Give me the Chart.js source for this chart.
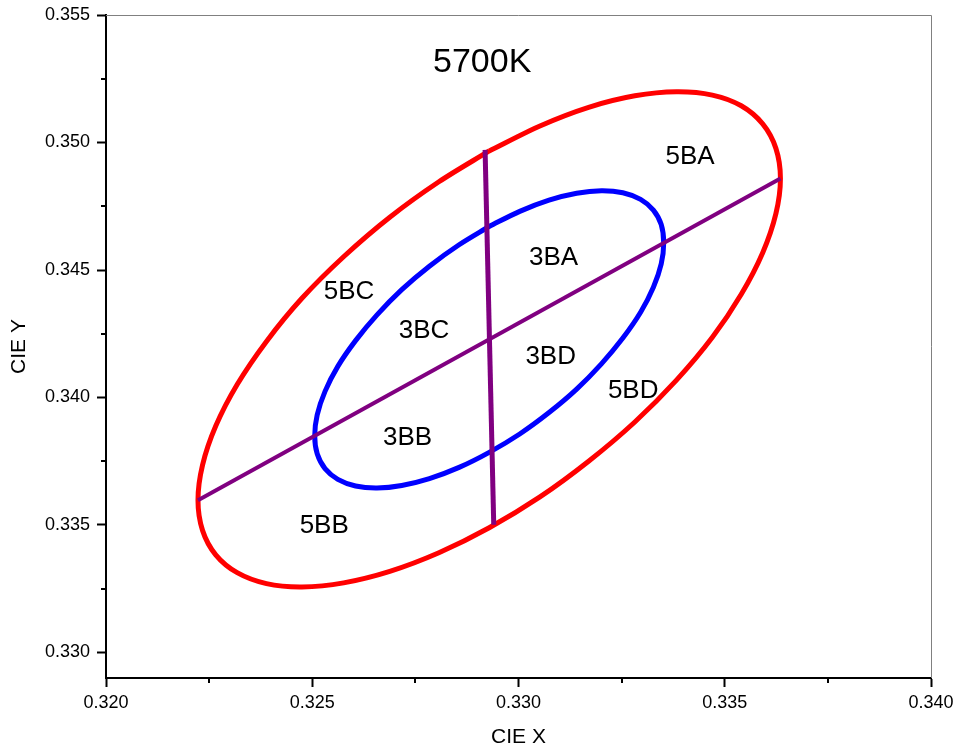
<!DOCTYPE html>
<html>
<head>
<meta charset="utf-8">
<script src="https://cdn.jsdelivr.net/npm/chart.js@4/dist/chart.umd.min.js"></script>
<style>
  html, body { margin: 0; padding: 0; background: #fff; }
  #chart { display: block; }
</style>
</head>
<body>
<canvas id="chart" width="959" height="750"></canvas>
<script>
const FONT = '"Liberation Sans", Arial, sans-serif';

// 5-step ellipse (red)
const redX = [0.32929, 0.32807, 0.32688, 0.32576, 0.32475, 0.32389, 0.32318, 0.32266, 0.32234, 0.32223,
  0.32234, 0.32266, 0.32318, 0.32389, 0.32475, 0.32576, 0.32688, 0.32807, 0.32929, 0.33052,
  0.33170, 0.33282, 0.33383, 0.33470, 0.33540, 0.33592, 0.33624, 0.33635, 0.33624, 0.33592,
  0.33540, 0.33470, 0.33383, 0.33282, 0.33170, 0.33052, 0.32929];
const redY = [0.34967, 0.34846, 0.34707, 0.34552, 0.34389, 0.34220, 0.34051, 0.33888, 0.33735, 0.33597,
  0.33479, 0.33383, 0.33313, 0.33270, 0.33257, 0.33273, 0.33318, 0.33391, 0.33489, 0.33610,
  0.33750, 0.33904, 0.34068, 0.34236, 0.34405, 0.34568, 0.34721, 0.34859, 0.34977, 0.35073,
  0.35144, 0.35186, 0.35199, 0.35183, 0.35138, 0.35065, 0.34967];

// 3-step ellipse (blue)
const blueX = [0.32929, 0.32856, 0.32784, 0.32717, 0.32657, 0.32605, 0.32562, 0.32531, 0.32512, 0.32506,
  0.32512, 0.32531, 0.32562, 0.32605, 0.32657, 0.32717, 0.32784, 0.32856, 0.32929, 0.33003,
  0.33074, 0.33141, 0.33201, 0.33253, 0.33296, 0.33327, 0.33346, 0.33352, 0.33346, 0.33327,
  0.33296, 0.33253, 0.33201, 0.33141, 0.33074, 0.33003, 0.32929];
const blueY = [0.34671, 0.34599, 0.34515, 0.34423, 0.34324, 0.34223, 0.34122, 0.34024, 0.33932, 0.33850,
  0.33779, 0.33721, 0.33679, 0.33653, 0.33645, 0.33655, 0.33682, 0.33726, 0.33785, 0.33857,
  0.33941, 0.34033, 0.34132, 0.34233, 0.34334, 0.34432, 0.34524, 0.34606, 0.34678, 0.34735,
  0.34777, 0.34803, 0.34811, 0.34801, 0.34774, 0.34730, 0.34671];

// dividing lines (purple)
const diagX = [0.32223, 0.33635];
const diagY = [0.33597, 0.34859];
const vertX = [0.32919, 0.32940];
const vertY = [0.34971, 0.33501];

const regionNames = ["5BA", "3BA", "5BC", "3BC", "3BD", "5BD", "3BB", "5BB"];
const regionX = [0.33416, 0.33085, 0.32589, 0.32771, 0.33078, 0.33278, 0.32731, 0.32529];
const regionY = [0.34944, 0.34548, 0.34415, 0.34262, 0.34159, 0.34025, 0.33843, 0.33497];
const titleText = "5700K";
const titleX = 0.32912;
const titleY = 0.35312;

const xTicks = [0.320, 0.325, 0.330, 0.335, 0.340];
const yTicks = [0.330, 0.335, 0.340, 0.345, 0.350, 0.355];
const xMinor = [0.3225, 0.3275, 0.3325, 0.3375];
const yMinor = [0.3325, 0.3375, 0.3425, 0.3475, 0.3525];

const pts = (xs, ys) => xs.map((x, i) => ({ x, y: ys[i] }));

function lineSet(xs, ys, color, width, tension) {
  return {
    data: pts(xs, ys),
    showLine: true,
    borderColor: color,
    backgroundColor: color,
    borderWidth: width,
    pointRadius: 0,
    tension,
    fill: false,
  };
}

const extras = {
  id: "extras",
  afterDatasetsDraw(chart) {
    const { ctx, chartArea: a, scales: { x, y } } = chart;
    ctx.save();

    // thin top/right frame
    ctx.strokeStyle = "#808080";
    ctx.lineWidth = 1;
    ctx.beginPath();
    ctx.moveTo(a.left, a.top + 0.5);
    ctx.lineTo(a.right + 0.5, a.top + 0.5);
    ctx.lineTo(a.right + 0.5, a.bottom);
    ctx.stroke();

    // minor ticks
    ctx.strokeStyle = "#000";
    ctx.lineWidth = 2;
    ctx.beginPath();
    xMinor.forEach((v) => {
      const px = Math.round(x.getPixelForValue(v));
      ctx.moveTo(px, a.bottom);
      ctx.lineTo(px, a.bottom + 5);
    });
    yMinor.forEach((v) => {
      const py = Math.round(y.getPixelForValue(v));
      ctx.moveTo(a.left, py);
      ctx.lineTo(a.left - 5, py);
    });
    ctx.stroke();

    ctx.fillStyle = "#000";
    ctx.textAlign = "center";
    ctx.textBaseline = "middle";
    ctx.font = `26px ${FONT}`;
    regionNames.forEach((t, i) => {
      ctx.fillText(t, x.getPixelForValue(regionX[i]), y.getPixelForValue(regionY[i]));
    });
    ctx.font = `34px ${FONT}`;
    ctx.fillText(titleText, x.getPixelForValue(titleX), y.getPixelForValue(titleY));
    ctx.restore();
  },
};

const tickFont = { family: FONT, size: 18 };
const titleFont = { family: FONT, size: 21 };

new Chart(document.getElementById("chart"), {
  type: "scatter",
  data: {
    datasets: [
      lineSet(vertX, vertY, "#800080", 5, 0),
      lineSet(diagX, diagY, "#800080", 4, 0),
      lineSet(blueX, blueY, "#0000ff", 5, 0.3),
      lineSet(redX, redY, "#ff0000", 5, 0.3),
    ],
  },
  options: {
    responsive: false,
    animation: false,
    layout: { padding: { top: 15, right: 28, left: 0, bottom: 0 } },
    plugins: { legend: { display: false }, tooltip: { enabled: false } },
    scales: {
      x: {
        type: "linear",
        position: "bottom",
        min: 0.32,
        max: 0.34,
        afterBuildTicks: (s) => { s.ticks = xTicks.map((v) => ({ value: v })); },
        afterFit: (s) => { s.height = 72; s.paddingLeft = 0; s.paddingRight = 0; },
        ticks: { font: tickFont, color: "#000", padding: 5, maxRotation: 0, callback: (v) => v.toFixed(3) },
        grid: { drawOnChartArea: false, drawTicks: true, tickLength: 9, tickWidth: 2, tickColor: "#000" },
        border: { color: "#000", width: 2 },
        title: { display: true, text: "CIE X", font: titleFont, color: "#000", padding: { top: 0, bottom: 0 } },
      },
      y: {
        type: "linear",
        position: "left",
        min: 0.329,
        max: 0.355,
        afterBuildTicks: (s) => { s.ticks = yTicks.map((v) => ({ value: v })); },
        afterFit: (s) => { s.width = 106; s.paddingTop = 0; s.paddingBottom = 0; },
        ticks: { font: tickFont, color: "#000", padding: 7, callback: (v) => v.toFixed(3) },
        grid: { drawOnChartArea: false, drawTicks: true, tickLength: 9, tickWidth: 2, tickColor: "#000" },
        border: { color: "#000", width: 2 },
        title: { display: true, text: "CIE Y", font: titleFont, color: "#000", padding: { top: 7, bottom: 0 } },
      },
    },
  },
  plugins: [extras],
});
</script>
</body>
</html>
